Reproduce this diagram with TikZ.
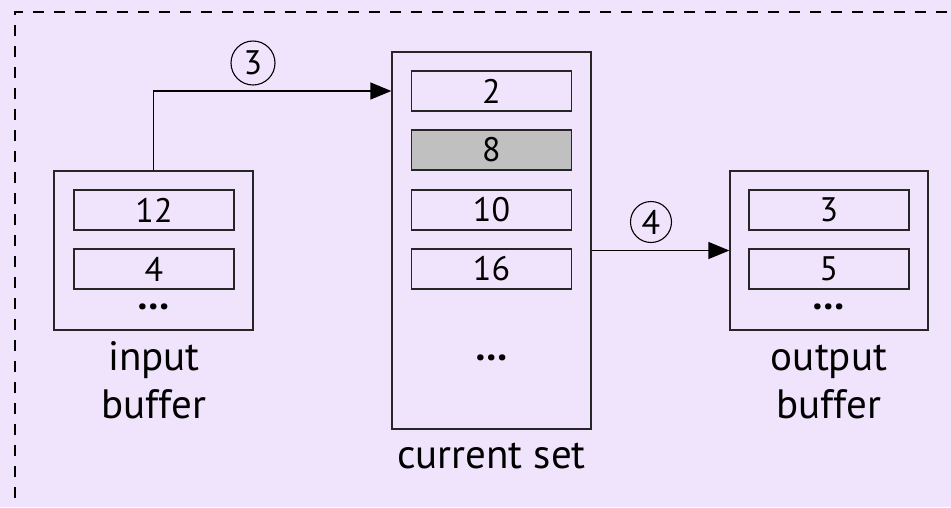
\documentclass[tikz,border=0pt]{standalone}
\usepackage{fontspec}
\setmainfont{PT Sans}
\usetikzlibrary{arrows.meta}
\definecolor{bg}{RGB}{240,228,252}
\definecolor{hl}{RGB}{192,192,192}
\begin{document}
\begin{tikzpicture}[x=1pt,y=-1pt,
  outer/.style={draw=black!85, line width=1.3pt, minimum width=199pt, inner sep=0pt},
  cell/.style={draw=black!85, line width=1.3pt, minimum width=160pt, minimum height=40pt, inner sep=0pt, font=\fontsize{34}{40}\selectfont},
  dots/.style={font=\fontsize{40}{44}\selectfont\bfseries, inner sep=0pt},
  lbl/.style={font=\fontsize{41}{48}\selectfont, align=center, inner sep=0pt},
  numcirc/.style={circle, draw, line width=1.1pt, inner sep=0pt, font=\fontsize{34}{40}\selectfont},
  arr/.style={line width=1.3pt, -{Triangle[length=21pt,width=17pt]}}]
\fill[bg] (0,0) rectangle (951,507);
\useasboundingbox (0,0) rectangle (951,507);
\draw[line width=1.3pt, dash pattern=on 11pt off 10pt] (15,540) -- (15,12) -- (980,12);
% input buffer
\node[outer, minimum height=159pt] (in) at (153.5,250.5) {};
\node[cell] (i1) at (154,210) {12};
\node[cell] (i2) at (154,269) {4};
\node[dots] (id) at (154,307) {…};
\node[lbl, anchor=base] (inl) at (154,418) {input\\buffer};
% current set
\node[outer, minimum height=377pt] (cur) at (491.5,240.5) {};
\node[cell] (c1) at (491.5,91) {2};
\node[cell, fill=hl] (c2) at (491.5,150) {8};
\node[cell] (c3) at (491.5,210) {10};
\node[cell] (c4) at (491.5,269) {16};
\node[dots] (cd) at (491.5,358) {…};
\node[lbl, anchor=base] (curl) at (491.5,468) {current set};
% output buffer
\node[outer, minimum width=198pt, minimum height=159pt] (out) at (829,250.5) {};
\node[cell] (o1) at (829,210) {3};
\node[cell] (o2) at (829,269) {5};
\node[dots] (od) at (829,307) {…};
\node[lbl, anchor=base] (outl) at (829,418) {output\\buffer};
% arrows
\draw[arr] (in.north) |- (c1.west -| cur.west);
\draw[arr] (out.west -| cur.east) -- (out.west);
\node[numcirc, minimum size=44pt] (n3) at (253,63) {3};
\node[numcirc, minimum size=41pt] (n4) at (651,222) {4};
\end{tikzpicture}
\end{document}
